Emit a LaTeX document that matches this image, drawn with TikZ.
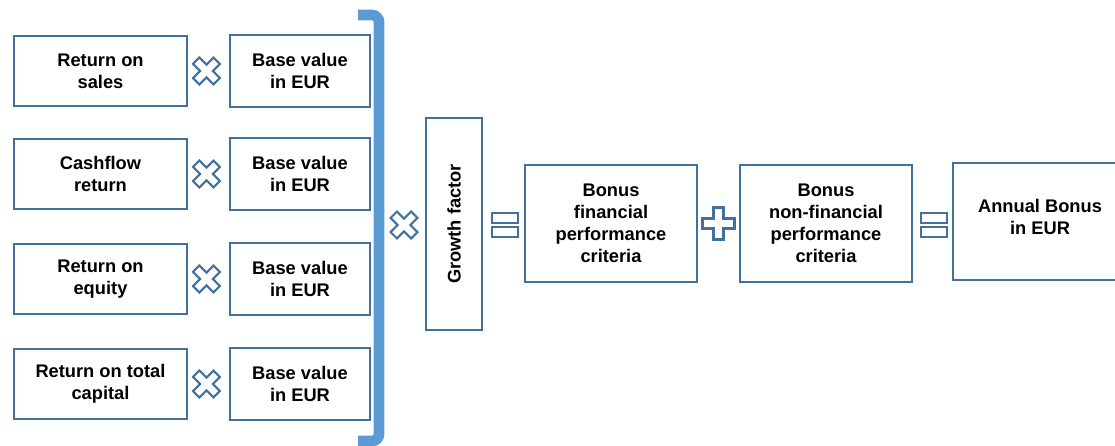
\documentclass[tikz,border=0pt]{standalone}
\usepackage{fontspec}
\setmainfont{Liberation Sans}
\usetikzlibrary{positioning,calc}

\definecolor{boxline}{RGB}{65,113,156}
\definecolor{bracketblue}{RGB}{91,155,213}

\tikzset{
  box/.style={draw=boxline, line width=1.5pt, align=center, inner sep=1pt,
    font=\bfseries\fontsize{13}{15.6}\selectfont},
  ratio/.style={box, minimum width=4.325cm, minimum height=1.75cm},
  basebox/.style={box, minimum width=3.5cm, minimum height=1.78cm},
  bonus/.style={box, minimum width=4.3cm, minimum height=2.925cm},
  oper/.style={draw=boxline, line width=1.5pt, fill=white},
  opplus/.pic={\path[oper] (-5,-16) -- (5,-16) -- (5,-5) -- (16,-5) -- (16,5) -- (5,5)
    -- (5,16) -- (-5,16) -- (-5,5) -- (-16,5) -- (-16,-5) -- (-5,-5) -- cycle;},
  opcross/.pic={\path[oper, rotate=45] (-4.5,-14.5) -- (4.5,-14.5) -- (4.5,-4.5) -- (14.5,-4.5)
    -- (14.5,4.5) -- (4.5,4.5) -- (4.5,14.5) -- (-4.5,14.5) -- (-4.5,4.5) -- (-14.5,4.5)
    -- (-14.5,-4.5) -- (-4.5,-4.5) -- cycle;},
  opequal/.pic={\path[oper] (-13,-12) rectangle (13,-2);
    \path[oper] (-13,2) rectangle (13,12);}
}

\begin{document}
\begin{tikzpicture}[x=0.025cm, y=-0.025cm]
  \useasboundingbox (0,0) rectangle (1115,446);

  % left column
  \node[ratio] (r1) at (100.5,71) {Return on\\sales};
  \node[ratio] (r2) at (100.5,174) {Cashflow\\return};
  \node[ratio] (r3) at (100.5,279) {Return on\\equity};
  \node[ratio] (r4) at (100.5,384) {Return on total\\capital};

  \node[basebox, right=1.02cm of r1] (b1) {Base value\\in EUR};
  \node[basebox, right=1.02cm of r2] (b2) {Base value\\in EUR};
  \node[basebox, right=1.02cm of r3] (b3) {Base value\\in EUR};
  \node[basebox, right=1.02cm of r4] (b4) {Base value\\in EUR};

  \foreach \i in {1,...,4}
    \pic at ($(r\i.east)!0.45!(b\i.west)$) {opcross};

  % bracket
  \draw[bracketblue, line width=7.6pt, rounded corners=5pt]
    (358,15) -- (379,15) -- (379,441) -- (358,441);

  % right part
  \node[box, rotate=90, minimum width=5.3cm, minimum height=1.4cm] (growth) at (454,224) {Growth factor};
  \node[bonus] (fin) at (611,223.5) {Bonus\\financial\\performance\\criteria};
  \node[bonus] (nonfin) at (826,223.5) {Bonus\\non-financial\\performance\\criteria};
  \node[bonus, minimum width=4.35cm, text depth=6pt] (annual) at (1040,221.5) {Annual Bonus\\in EUR};

  \pic at (404,225) {opcross};
  \pic at (505,225) {opequal};
  \pic at ($(fin.east)!0.5!(nonfin.west)$) {opplus};
  \pic at (934,225) {opequal};
\end{tikzpicture}
\end{document}
